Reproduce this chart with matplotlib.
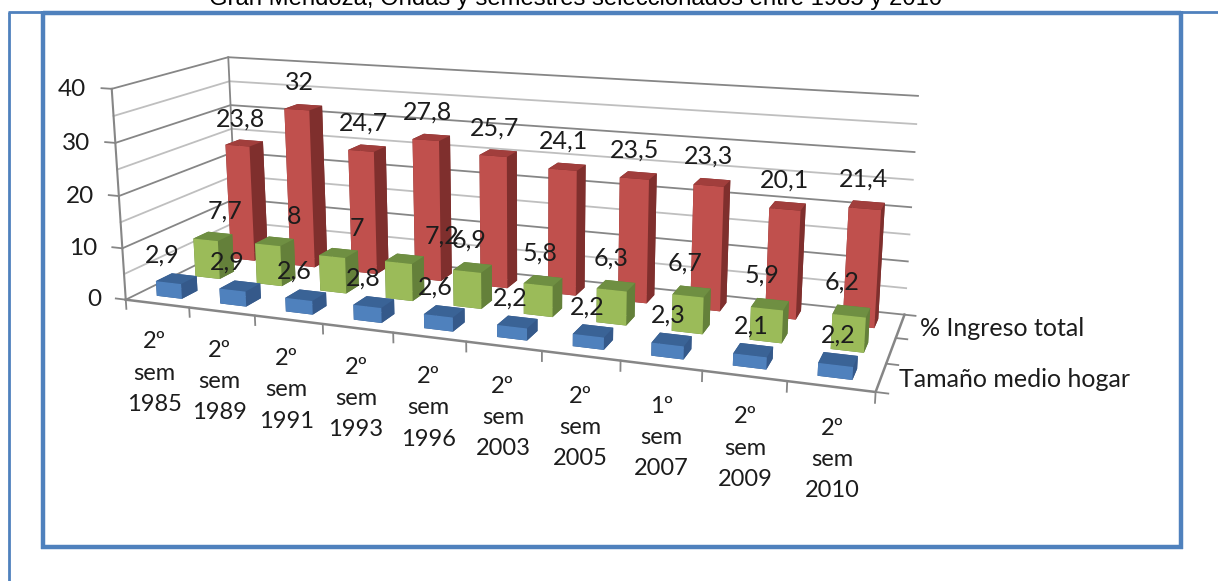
import numpy as np
import matplotlib
matplotlib.use('Agg')
import matplotlib.pyplot as plt
from matplotlib.lines import Line2D
from mpl_toolkits.mplot3d import proj3d

W, H = 1218, 581

categories = ['2º\nsem\n1985', '2º\nsem\n1989', '2º\nsem\n1991', '2º\nsem\n1993', '2º\nsem\n1996',
              '2º\nsem\n2003', '2º\nsem\n2005', '1º\nsem\n2007', '2º\nsem\n2009', '2º\nsem\n2010']
tamano = [2.9, 2.9, 2.6, 2.8, 2.6, 2.2, 2.2, 2.3, 2.1, 2.2]
sin_rotulo = [7.7, 8, 7, 7.2, 6.9, 5.8, 6.3, 6.7, 5.9, 6.2]
ingreso = [23.8, 32, 24.7, 27.8, 25.7, 24.1, 23.5, 23.3, 20.1, 21.4]
z_ticks = [0, 10, 20, 30, 40]
z_grid = [5, 15, 25, 35]

FONT = 'Lato'
BLUE = ['#35598A', '#3A6396', '#4F81BD', '#35598A', '#35598A', '#35598A']
GREEN = ['#64803A', '#6F8F42', '#9BBB59', '#64803A', '#64803A', '#64803A']
RED = ['#7F2F2D', '#A13E3C', '#C0504D', '#7F2F2D', '#7F2F2D', '#7F2F2D']
AXIS = '#868686'
MINOR = '#BFBFBF'
FRAME = '#4F81BD'

fig = plt.figure(figsize=(W / 100, H / 100), dpi=100)
ax = fig.add_axes([0, -0.55, 1, 2.1], projection='3d')
ax.set_axis_off()
ax.set_proj_type('ortho')
ax.computed_zorder = False
ax.apply_aspect()

# the Excel view is fitted from where the chart box corners sit in the picture
box = np.array([[0, 0, 0], [0, 0, 40], [0, 3, 40], [0, 3, 0],
                [10, 3, 40], [10, 3, 0], [10, 0, 0]], dtype=float)
corners = np.array([[126, 298], [112, 88], [228, 57], [237, 247],
                    [918, 97], [905, 311], [875, 395]], dtype=float)
corners[:, 1] = H - corners[:, 1]
uv = ax.transData.inverted().transform(corners)
rows, rhs = [], []
for (x, y, z), (u, v) in zip(box, uv):
    rows.append([x, y, z, 1, 0, 0, 0, 0, -u * x, -u * y, -u * z])
    rows.append([0, 0, 0, 0, x, y, z, 1, -v * x, -v * y, -v * z])
    rhs += [u, v]
p = np.linalg.lstsq(np.array(rows), np.array(rhs), rcond=None)[0]
M = np.array([[p[0], p[1], p[2], p[3]],
              [p[4], p[5], p[6], p[7]],
              [-0.02, 0.1, -0.002, 1],
              [p[8], p[9], p[10], 1]])
ax.get_proj = lambda: M


def label(x, y, z, s, **kw):
    u, v, _ = proj3d.proj_transform(x, y, z, M)
    kw.setdefault('fontsize', 17.5)
    ax.text2D(u, v, s, transform=ax.transData, family=FONT, color='#1c1c1c', zorder=60, **kw)


# walls
for z in z_grid + z_ticks:
    c = MINOR if z in z_grid else AXIS
    ax.plot([0, 0, 10], [0, 3, 3], [z, z, z], color=c, lw=1.3, zorder=1)
ax.plot([0, 0], [3, 3], [0, 40], color=AXIS, lw=1.3, zorder=1)
ax.plot([0, 0], [0, 0], [0, 40], color=AXIS, lw=1.5, zorder=1)
ax.plot([0, 10, 10], [0, 0, 3], [0, 0, 0], color=AXIS, lw=1.8, zorder=1)

# ticks
for z in z_ticks:
    ax.plot([-0.16, 0], [0, 0], [z, z], color=AXIS, lw=1.3, zorder=1)
    label(-0.4, 0, z - 0.5, str(z), ha='right', va='center')
for i in range(11):
    ax.plot([i, i], [0, 0], [0, -1.8], color=AXIS, lw=1.3, zorder=1)
for j in range(4):
    ax.plot([10, 10.14], [j, j], [0, 0], color=AXIS, lw=1.3, zorder=1)

# bars, back row first and left to right
for j, (vals, cols) in reversed(list(enumerate([(tamano, BLUE), (sin_rotulo, GREEN), (ingreso, RED)]))):
    for i, v in enumerate(vals):
        ax.bar3d(i + 0.3, j + 0.3, 0, 0.4, 0.4, v, color=cols, shade=False, zorder=10 + (2 - j) * 20 + i)

# data labels, the green ones sit irregularly in the original
green_nudge = [0.01, 0.11, 0.06, 0.33, -0.29, -0.3, -0.33, -0.36, -0.39, -0.42]
for i, v in enumerate(tamano):
    label(i + 0.55, 0.1, v + 4.0, f'{v:g}'.replace('.', ','), ha='center', va='bottom', fontsize=18)
for i, v in enumerate(sin_rotulo):
    label(i + 0.82 + green_nudge[i], 1.3, v + 3.8, f'{v:g}'.replace('.', ','), ha='center', va='bottom', fontsize=18)
for i, v in enumerate(ingreso):
    label(i + 0.45, 2.5, v + 2.6, f'{v:g}'.replace('.', ','), ha='center', va='bottom', fontsize=18)

# category labels
for i, c in enumerate(categories):
    label(i + 0.39 + 0.019 * i, 0, -13.9 + 0.19 * i, c, ha='center', va='center', fontsize=17, linespacing=1.6)

# depth labels, Excel skips the middle series
label(10.2, 0.5, 0, 'Tamaño medio hogar', ha='left', va='center', fontsize=18)
label(10.25, 2.5, 0, '% Ingreso total', ha='left', va='center', fontsize=18)


# page frame and cut off title
def frame_line(xs, ys, lw):
    fig.add_artist(Line2D(np.array(xs) / W, 1 - np.array(ys) / H, color=FRAME, lw=lw, solid_capstyle='butt'))


frame_line([8.5, 8.5], [12, 581], 2)
frame_line([8, 1218], [12, 12], 2)
frame_line([43, 1181], [13, 13], 3.2)
frame_line([43, 43], [11, 549], 3.2)
frame_line([41, 1183], [546.5, 546.5], 3.2)
frame_line([1180.5, 1180.5], [11, 549], 3.2)
fig.text(576 / W, 1 - 5 / H, 'Gran Mendoza, Ondas y semestres seleccionados entre 1985 y 2010',
         ha='center', va='baseline', fontsize=17.2, family='Liberation Sans', color='black')

fig.savefig('out.png', dpi=100)
